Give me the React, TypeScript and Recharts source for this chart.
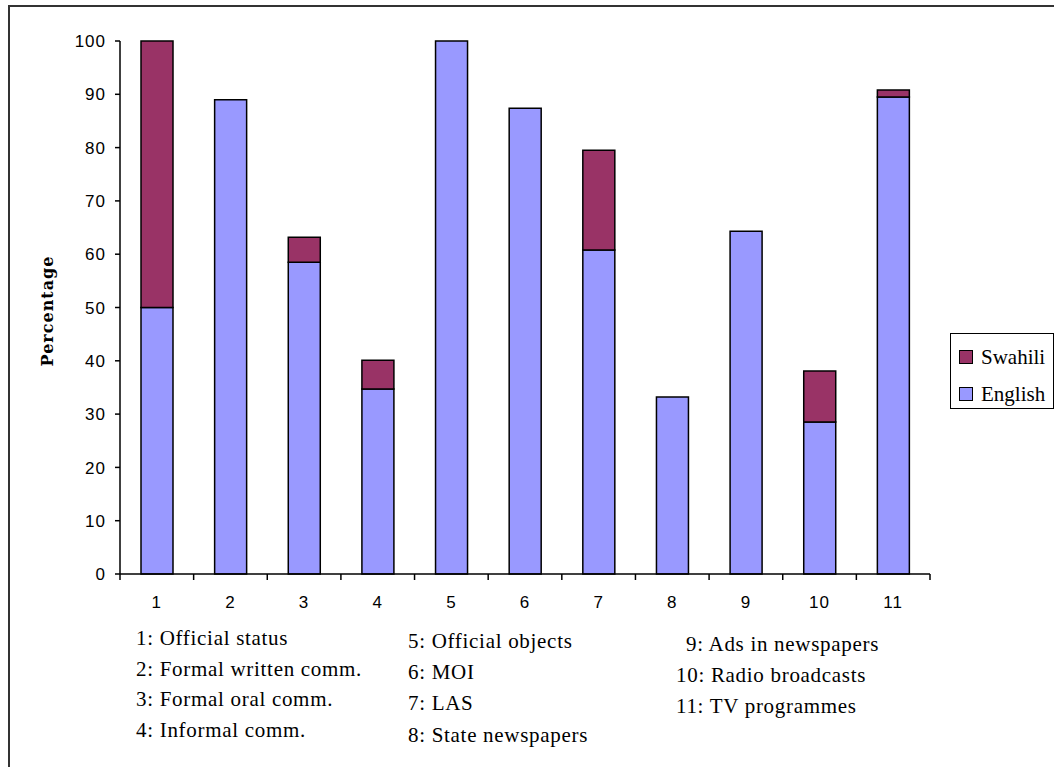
import React from 'react';
import { BarChart, Bar, XAxis, YAxis, Legend } from 'recharts';

// category numbers along the x axis
const categories = ['1', '2', '3', '4', '5', '6', '7', '8', '9', '10', '11'];
// share of English use per domain (%)
const english = [50, 89, 58.5, 34.7, 100, 87.4, 60.8, 33.2, 64.3, 28.5, 89.5];
// share of Swahili use per domain (%)
const swahili = [50, 0, 4.7, 5.4, 0, 0, 18.7, 0, 0, 9.6, 1.3];
const yTicks = [0, 10, 20, 30, 40, 50, 60, 70, 80, 90, 100];

// key to the category numbers, in three columns
const keyCol1 = ['1: Official status', '2: Formal written comm.', '3: Formal oral comm.', '4: Informal comm.'];
const keyCol2 = ['5: Official objects', '6: MOI', '7: LAS', '8: State newspapers'];
const keyCol3 = ['9: Ads in newspapers', '10: Radio broadcasts', '11: TV programmes'];

const data = categories.map((name, i) => ({ name, English: english[i], Swahili: swahili[i] }));

const W = 1054;
const H = 767;
const PLOT_LEFT = 120;
const PLOT_RIGHT = 930;
const PLOT_TOP = 41;
const PLOT_BOTTOM = 574;
const Y_AXIS_W = 60;
const X_AXIS_H = 30;
const LEGEND_W = 104;
const STEP = (PLOT_RIGHT - PLOT_LEFT) / categories.length;

const ENGLISH_FILL = '#9999FF';
const SWAHILI_FILL = '#993366';
const SERIF = '"Liberation Serif", "Times New Roman", serif';
const SANS = '"Liberation Sans", Arial, sans-serif';

// Excel-style ticks: marks sit between categories, labels in the middle
const CategoryTick = (props: any) => {
  const { x, y, payload, index } = props;
  const left = x - STEP / 2;
  return (
    <g>
      <line x1={left} y1={y} x2={left} y2={y + 6} stroke="#000" strokeWidth={1.5} />
      {index === categories.length - 1 && (
        <line x1={x + STEP / 2} y1={y} x2={x + STEP / 2} y2={y + 6} stroke="#000" strokeWidth={1.5} />
      )}
      <text
        x={x}
        y={y + 34}
        textAnchor="middle"
        style={{ fontFamily: SANS, fontSize: 17, letterSpacing: 1 }}
        fill="#000"
      >
        {payload.value}
      </text>
    </g>
  );
};

const ValueTick = (props: any) => {
  const { x, y, payload } = props;
  return (
    <text
      x={x}
      y={y}
      dy="0.36em"
      textAnchor="end"
      style={{ fontFamily: SANS, fontSize: 17, letterSpacing: 1 }}
      fill="#000"
    >
      {payload.value}
    </text>
  );
};

const LegendBox = () => {
  const items = [
    { label: 'Swahili', color: SWAHILI_FILL },
    { label: 'English', color: ENGLISH_FILL },
  ];
  return (
    <div
      style={{
        width: LEGEND_W,
        height: 76,
        border: '1px solid #000',
        boxSizing: 'border-box',
        background: '#fff',
        paddingTop: 9,
      }}
    >
      {items.map((it) => (
        <div key={it.label} style={{ display: 'flex', alignItems: 'center', height: 28, marginBottom: 9 }}>
          <span
            style={{
              display: 'inline-block',
              width: 12,
              height: 12,
              marginLeft: 8,
              marginRight: 8,
              background: it.color,
              border: '1.5px solid #000',
            }}
          />
          <span style={{ fontFamily: SERIF, fontSize: 21, color: '#000' }}>{it.label}</span>
        </div>
      ))}
    </div>
  );
};

const keyText = { fontFamily: SERIF, fontSize: 21, letterSpacing: 0.7 };

const App = () => {
  return (
    <div style={{ position: 'fixed', left: 0, top: 0, width: W, height: H, overflow: 'hidden', background: '#fff' }}>
      <div
        style={{
          position: 'absolute',
          left: 8,
          top: 5,
          width: W - 8,
          height: H - 5,
          borderLeft: '2px solid #333',
          borderTop: '2px solid #333',
          boxSizing: 'border-box',
        }}
      />
      <div style={{ position: 'absolute', left: 0, top: 0 }}>
        <BarChart
          width={W}
          height={H}
          data={data}
          barSize={32}
          margin={{
            top: PLOT_TOP,
            bottom: H - PLOT_BOTTOM - X_AXIS_H,
            left: PLOT_LEFT - Y_AXIS_W,
            right: W - PLOT_RIGHT - LEGEND_W,
          }}
        >
          <XAxis
            dataKey="name"
            height={X_AXIS_H}
            axisLine={{ stroke: '#000', strokeWidth: 1.5 }}
            tickLine={false}
            tickSize={0}
            tickMargin={0}
            interval={0}
            tick={<CategoryTick />}
          />
          <YAxis
            width={Y_AXIS_W}
            domain={[0, 100]}
            ticks={yTicks}
            interval={0}
            axisLine={{ stroke: '#000', strokeWidth: 1.5 }}
            tickLine={{ stroke: '#000', strokeWidth: 1.5 }}
            tickSize={5}
            tickMargin={9}
            tick={<ValueTick />}
          />
          <Legend
            layout="vertical"
            align="right"
            verticalAlign="middle"
            content={() => <LegendBox />}
            wrapperStyle={{ left: 950, top: 333, width: LEGEND_W, right: 'auto' }}
          />
          <Bar dataKey="English" stackId="a" fill={ENGLISH_FILL} stroke="#000" strokeWidth={1.5} isAnimationActive={false} />
          <Bar dataKey="Swahili" stackId="a" fill={SWAHILI_FILL} stroke="#000" strokeWidth={1.5} isAnimationActive={false} />
        </BarChart>
      </div>
      <svg
        width={W}
        height={H}
        style={{ position: 'absolute', left: 0, top: 0, pointerEvents: 'none' }}
      >
        <text
          transform="translate(53, 311) rotate(-90)"
          textAnchor="middle"
          fontFamily='"DejaVu Serif", serif'
          fontWeight="bold"
          fontSize={16}
          letterSpacing={1}
          fill="#000"
        >
          Percentage
        </text>
        {keyCol1.map((t, i) => (
          <text key={t} x={136} y={645 + i * 30.7} style={keyText} fill="#000">
            {t}
          </text>
        ))}
        {keyCol2.map((t, i) => (
          <text key={t} x={408} y={648 + i * 31.2} style={keyText} fill="#000">
            {t}
          </text>
        ))}
        {keyCol3.map((t, i) => (
          <text key={t} x={i === 0 ? 686 : 676} y={651 + i * 31} style={keyText} fill="#000">
            {t}
          </text>
        ))}
      </svg>
    </div>
  );
};

export default App;
